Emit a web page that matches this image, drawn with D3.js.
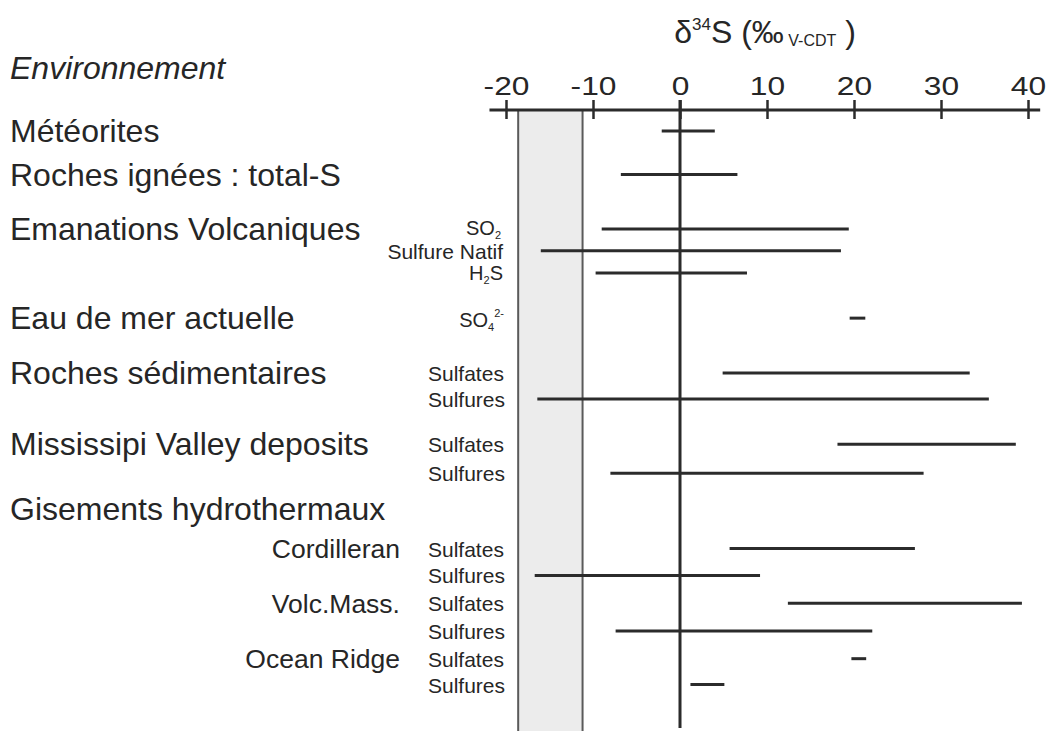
<!DOCTYPE html>
<html>
<head>
<meta charset="utf-8">
<script src="https://cdn.jsdelivr.net/npm/d3@7"></script>
<style>
  html, body { margin: 0; padding: 0; background: #fff; }
  svg { display: block; }
  text { font-family: "Liberation Sans", Arial, Helvetica, sans-serif; fill: #262626; }
</style>
</head>
<body>
<svg id="chart" width="1048" height="731"></svg>
<script>
// ---------------- DATA ----------------
const tickValues = [-20, -10, 0, 10, 20, 30, 40];
const groupNames = ["Météorites", "Roches ignées : total-S", "Emanations Volcaniques",
  "Eau de mer actuelle", "Roches sédimentaires", "Mississipi Valley deposits", "Gisements hydrothermaux"];
// rows (one range bar each)
const rowGroup = [0, 1, 2, 2, 2, 3, 4, 4, 5, 5, 6, 6, 6, 6, 6, 6];
const rowSub   = ["", "", "SO2", "Sulfure Natif", "H2S", "SO4", "Sulfates", "Sulfures", "Sulfates", "Sulfures",
                  "Sulfates", "Sulfures", "Sulfates", "Sulfures", "Sulfates", "Sulfures"];
const rowDeposit = ["", "", "", "", "", "", "", "", "", "", "Cordilleran", "", "Volc.Mass.", "", "Ocean Ridge", ""];
const rowMin = [-2.1, -6.8, -9.0, -16.0, -9.7, 19.5, 4.9, -16.4, 18.1, -8.0, 5.7, -16.7, 12.4, -7.4, 19.7, 1.2];
const rowMax = [4.0, 6.6, 19.4, 18.5, 7.7, 21.3, 33.3, 35.5, 38.6, 28.0, 27.0, 9.2, 39.3, 22.1, 21.4, 5.1];
const bandRange = [-18.6, -11.2];   // grey zone
// layout slots (vertical order, in row units)
const rowSlot = [0, 1.6, 3.6, 4.4, 5.22, 6.88, 8.9, 9.85, 11.52, 12.58, 15.35, 16.34, 17.36, 18.38, 19.4, 20.35];
const headerSlot = 13.88;  // "Gisements hydrothermaux"

// ---------------- CHART ----------------
const svg = d3.select("#chart");
const x = d3.scaleLinear().domain([-20, 40]).range([506, 1028]);
const y = d3.scaleLinear().domain([0, 1]).range([131, 158.2]);
const axisY = 110;
const ink = "#2b2b2b";

// grey band
svg.append("rect")
  .attr("x", x(bandRange[0])).attr("y", axisY)
  .attr("width", x(bandRange[1]) - x(bandRange[0])).attr("height", 731 - axisY)
  .attr("fill", "#ececec");
bandRange.forEach(v => {
  svg.append("line").attr("x1", x(v)).attr("x2", x(v)).attr("y1", axisY).attr("y2", 731)
    .attr("stroke", "#5a5a5a").attr("stroke-width", 2);
});

// zero line
svg.append("line").attr("x1", x(0)).attr("x2", x(0)).attr("y1", axisY - 10).attr("y2", 728)
  .attr("stroke", ink).attr("stroke-width", 3);

// axis
svg.append("line").attr("x1", x(-21.9)).attr("x2", x(41.4)).attr("y1", axisY).attr("y2", axisY)
  .attr("stroke", ink).attr("stroke-width", 3);
const axis = d3.axisTop(x).tickValues(tickValues).tickSize(10).tickFormat(d => String(d));
const ag = svg.append("g").attr("transform", `translate(0,${axisY})`).call(axis);
ag.select(".domain").remove();
ag.selectAll(".tick line").attr("y1", 9).attr("y2", -10).attr("stroke", ink).attr("stroke-width", 2.5);
ag.selectAll(".tick text").attr("y", -15).attr("dy", 0)
  .attr("font-size", 26).attr("fill", "#262626")
  .attr("transform", "scale(1.22,1)")
  .style("font-family", '"Liberation Sans", Arial, sans-serif');

// title
const title = svg.append("text").attr("x", 765).attr("y", 43).attr("text-anchor", "middle").attr("font-size", 32);
title.append("tspan").text("δ");
title.append("tspan").attr("font-size", 17).attr("dy", -13).text("34");
title.append("tspan").attr("dy", 13).text("S (");
title.append("tspan").text("‰");
title.append("tspan").attr("font-size", 16).attr("dy", 3).text(" V-CDT");
title.append("tspan").attr("dy", -3).text(" )");

// Environnement
svg.append("text").attr("x", 10).attr("y", 79).attr("font-size", 32).attr("font-style", "italic")
  .text("Environnement");

// range bars
const rows = rowGroup.map((g, i) => ({ g, sub: rowSub[i], dep: rowDeposit[i], lo: rowMin[i], hi: rowMax[i], slot: rowSlot[i] }));
svg.append("g").selectAll("line").data(rows).join("line")
  .attr("x1", d => x(d.lo)).attr("x2", d => x(d.hi))
  .attr("y1", d => y(d.slot)).attr("y2", d => y(d.slot))
  .attr("stroke", ink).attr("stroke-width", 3);

// group labels (aligned with the first row of each group)
groupNames.forEach((name, gi) => {
  const idx = rowGroup.indexOf(gi);
  const slot = gi === 6 ? headerSlot : rowSlot[idx];
  svg.append("text").attr("x", 10).attr("y", y(slot) + 11).attr("font-size", 32).text(name);
});

// deposit labels
rows.forEach(d => {
  if (d.dep) {
    svg.append("text").attr("x", 400).attr("y", y(d.slot) + 9.5).attr("text-anchor", "end")
      .attr("font-size", 26.5).text(d.dep);
  }
});

// sub labels
rows.forEach(d => {
  if (!d.sub) return;
  const yy = y(d.slot);
  if (d.sub === "Sulfates" || d.sub === "Sulfures") {
    svg.append("text").attr("x", 428).attr("y", yy + 8).attr("font-size", 21).text(d.sub);
  } else if (d.sub === "SO2") {
    const t = svg.append("text").attr("x", 501).attr("y", yy + 6.5).attr("text-anchor", "end").attr("font-size", 20);
    t.append("tspan").text("SO");
    t.append("tspan").attr("font-size", 11).attr("dy", 4).text("2");
  } else if (d.sub === "H2S") {
    const t = svg.append("text").attr("x", 503).attr("y", yy + 7).attr("text-anchor", "end").attr("font-size", 20);
    t.append("tspan").text("H");
    t.append("tspan").attr("font-size", 11).attr("dy", 4).text("2");
    t.append("tspan").attr("dy", -4).text("S");
  } else if (d.sub === "SO4") {
    const t = svg.append("text").attr("x", 504).attr("y", yy + 8.5).attr("text-anchor", "end").attr("font-size", 20);
    t.append("tspan").text("SO");
    t.append("tspan").attr("font-size", 11).attr("dy", 4).text("4");
    t.append("tspan").attr("font-size", 11).attr("dy", -14).text("2-");
  } else {
    svg.append("text").attr("x", 503).attr("y", yy + 8).attr("text-anchor", "end").attr("font-size", 21).text(d.sub);
  }
});
</script>
</body>
</html>
